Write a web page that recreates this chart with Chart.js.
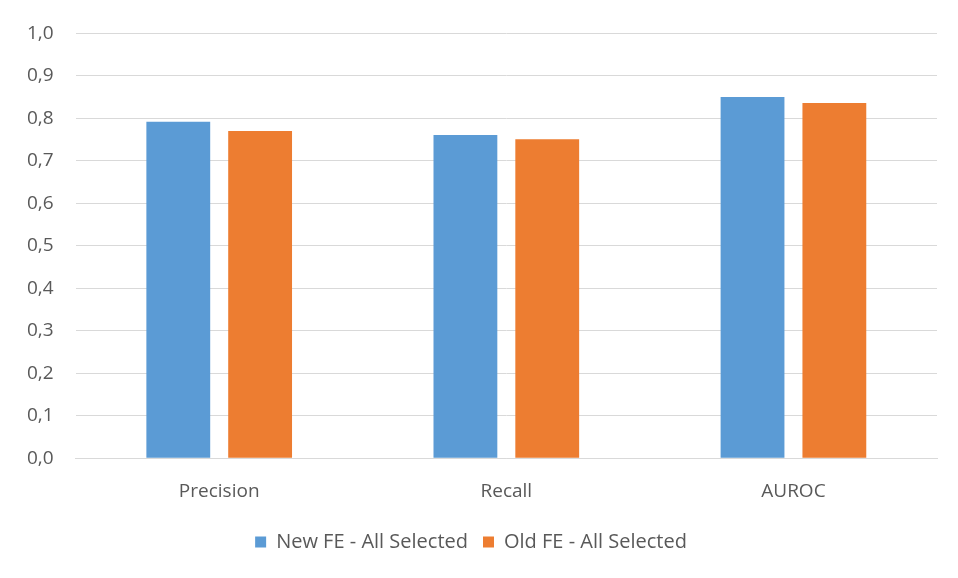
<!DOCTYPE html>
<html>
<head>
<meta charset="utf-8">
<script src="https://cdn.jsdelivr.net/npm/chart.js@4"></script>
<style>
  html, body { margin: 0; padding: 0; background: #ffffff; }
  #wrap { width: 958px; height: 578px; }
</style>
</head>
<body>
<div id="wrap"><canvas id="js--chart"></canvas></div>
<script>
const categories = ["Precision", "Recall", "AUROC"];
const newFE = [0.792, 0.761, 0.850];
const oldFE = [0.770, 0.751, 0.836];
const seriesNames = ["New FE - All Selected", "Old FE - All Selected"];

const textColor = '#595959';
const fontFamily = "'Open Sans', 'Noto Sans', sans-serif";

const data = {
    labels: categories,
    datasets: [
        {
            label: seriesNames[0],
            data: newFE,
            backgroundColor: '#5b9bd5',
        },
        {
            label: seriesNames[1],
            data: oldFE,
            backgroundColor: '#ed7d31',
        }
    ]
};

const config = {
    type: 'bar',
    data: data,
    options: {
        responsive: true,
        maintainAspectRatio: false,
        animation: false,
        layout: { padding: { left: 5, right: 21, top: 28, bottom: 16 } },
        datasets: {
            bar: { categoryPercentage: 0.57, barPercentage: 0.78 }
        },
        scales: {
            x: {
                grid: { display: false },
                border: { color: '#d9d9d9', width: 1 },
                ticks: { color: textColor, font: { family: fontFamily, size: 19 }, padding: 14 }
            },
            y: {
                min: 0,
                max: 1,
                grid: { color: '#d9d9d9', drawTicks: false },
                border: { display: false },
                ticks: {
                    stepSize: 0.1,
                    color: textColor,
                    font: { family: fontFamily, size: 19 },
                    padding: 22,
                    callback: function (value) {
                        return value.toFixed(1).replace('.', ',');
                    }
                }
            }
        },
        plugins: {
            legend: {
                position: 'bottom',
                labels: {
                    color: textColor,
                    font: { family: fontFamily, size: 20 },
                    boxWidth: 11,
                    boxHeight: 11,
                    padding: 15
                }
            },
            tooltip: { enabled: false }
        }
    }
};

new Chart(document.getElementById("js--chart"), config);
</script>
</body>
</html>
